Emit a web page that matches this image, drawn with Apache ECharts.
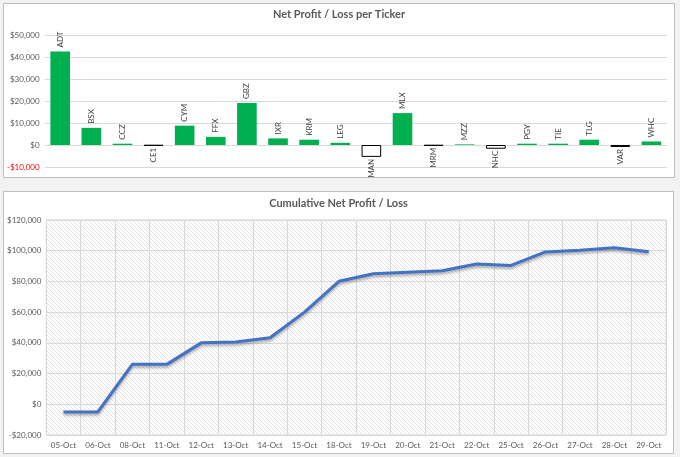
<!DOCTYPE html>
<html>
<head>
<meta charset="utf-8">
<script src="https://cdn.jsdelivr.net/npm/echarts@6/dist/echarts.min.js"></script>
<style>
  html, body { margin: 0; padding: 0; background: #f2f2f2; }
  .panel { position: absolute; background: #fff; border: 1px solid #bfbfbf; box-sizing: border-box; }
  #top { left: 3px; top: 3px; width: 672px; height: 175px; }
  #bottom { left: 3px; top: 191px; width: 671px; height: 263px; }
</style>
</head>
<body>
<div id="top" class="panel"></div>
<div id="bottom" class="panel"></div>
<script>
// ---------- data ----------
const tickers = ['ADT', 'BSX', 'CCZ', 'CE1', 'CYM', 'FFX', 'GBZ', 'IXR', 'KRM', 'LEG',
                 'MAN', 'MLX', 'MRM', 'MZZ', 'NHC', 'PGY', 'TIE', 'TLG', 'VAR', 'WHC'];
const profitLoss = [42500, 7800, 600, -300, 8800, 3700, 19100, 3000, 2400, 1000,
                    -5400, 14500, -300, 300, -1700, 600, 600, 2400, -900, 1600];

const dates = ['05-Oct', '06-Oct', '08-Oct', '11-Oct', '12-Oct', '13-Oct', '14-Oct', '15-Oct', '18-Oct',
               '19-Oct', '20-Oct', '21-Oct', '22-Oct', '25-Oct', '26-Oct', '27-Oct', '28-Oct', '29-Oct'];
const cumulative = [-5000, -5000, 26000, 26000, 40000, 40600, 43300, 60000, 80100,
                    85000, 86000, 87000, 91300, 90400, 99200, 100300, 102000, 99400];

const FONT = 'Lato, "Open Sans", sans-serif';
const GREY = '#595959';

function money(v) {
    const s = '$' + Math.abs(v).toLocaleString('en-US');
    return v < 0 ? '-' + s : s;
}

// diagonal hatch for the plot area
function hatch() {
    const s = 4;
    const c = document.createElement('canvas');
    c.width = s; c.height = s;
    const ctx = c.getContext('2d');
    ctx.fillStyle = '#fff';
    ctx.fillRect(0, 0, s, s);
    ctx.strokeStyle = '#e4e4e4';
    ctx.lineWidth = 1;
    [-s, 0, s].forEach(k => {
        ctx.beginPath();
        ctx.moveTo(k, 0);
        ctx.lineTo(k + s, s);
        ctx.stroke();
    });
    return { image: c, repeat: 'repeat' };
}

// ---------- top chart ----------
const topChart = echarts.init(document.getElementById('top'));
topChart.setOption({
    animation: false,
    title: {
        text: 'Net Profit / Loss per Ticker',
        left: 'center', top: 0,
        textStyle: { fontFamily: FONT, fontSize: 11, fontWeight: 'bold', color: GREY }
    },
    grid: { left: 35, right: 7, top: 31, bottom: 10 },
    xAxis: {
        type: 'category',
        data: tickers,
        axisLine: { show: false },
        axisTick: { show: false },
        axisLabel: { show: false }
    },
    yAxis: {
        type: 'value',
        min: -10000, max: 50000, interval: 10000,
        axisLabel: {
            fontFamily: FONT, fontSize: 8, margin: 5,
            formatter: money,
            color: v => (v < 0 ? '#ff0000' : GREY)
        },
        splitLine: { lineStyle: { color: '#d9d9d9' } }
    },
    series: [{
        type: 'bar',
        barCategoryGap: '37%',
        data: profitLoss.map(v => ({
            value: v,
            itemStyle: v < 0
                ? { color: '#fff', borderColor: '#000', borderWidth: 1 }
                : { color: '#00b050' },
            label: {
                show: true,
                formatter: '{b}',
                rotate: 90,
                position: v < 0 ? 'bottom' : 'top',
                align: v < 0 ? 'right' : 'left',
                verticalAlign: 'middle',
                distance: v < 0 ? 2 : 4,
                fontFamily: FONT, fontSize: 8, color: '#404040'
            }
        }))
    }]
});

// ---------- bottom chart ----------
const bottomChart = echarts.init(document.getElementById('bottom'));
bottomChart.setOption({
    animation: false,
    title: {
        text: 'Cumulative Net Profit / Loss',
        left: 'center', top: 1,
        textStyle: { fontFamily: FONT, fontSize: 11, fontWeight: 'bold', color: GREY }
    },
    grid: {
        left: 35, right: 7, top: 28, bottom: 18,
        show: true, backgroundColor: hatch(), borderColor: '#d9d9d9', borderWidth: 1
    },
    xAxis: {
        type: 'category',
        data: dates,
        boundaryGap: true,
        axisLine: { show: false },
        axisTick: { show: false },
        axisLabel: { fontFamily: FONT, fontSize: 8, color: GREY, margin: 6, interval: 0 },
        splitLine: { show: true, interval: 0, lineStyle: { color: '#d9d9d9' } }
    },
    yAxis: {
        type: 'value',
        min: -20000, max: 120000, interval: 20000,
        axisLabel: { fontFamily: FONT, fontSize: 8, color: GREY, margin: 5, formatter: money },
        splitLine: { lineStyle: { color: '#d9d9d9' } }
    },
    series: [{
        type: 'line',
        data: cumulative,
        showSymbol: false,
        lineStyle: {
            color: '#4472c4', width: 3,
            shadowColor: 'rgba(0,0,0,0.35)', shadowBlur: 3, shadowOffsetY: 2
        }
    }]
});
</script>
</body>
</html>
